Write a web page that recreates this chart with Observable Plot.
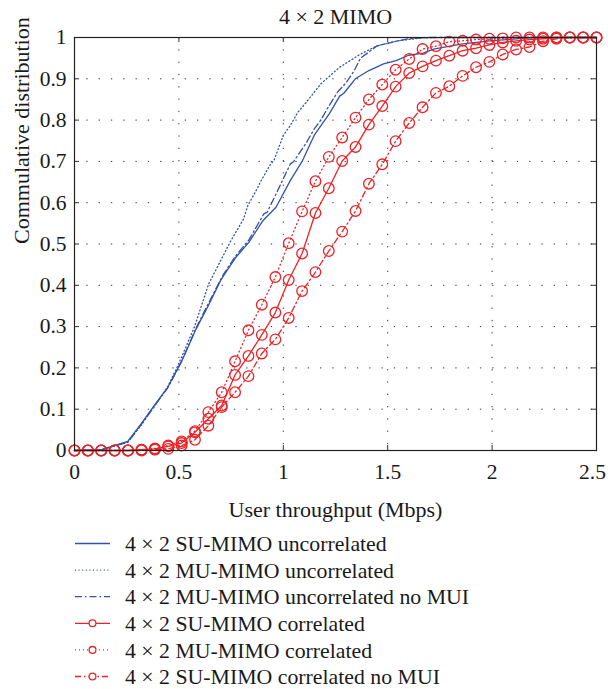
<!DOCTYPE html>
<html><head><meta charset="utf-8">
<script src="https://cdn.jsdelivr.net/npm/d3@7"></script>
<script src="https://cdn.jsdelivr.net/npm/@observablehq/plot@0.6"></script>
<style>body{margin:0;background:#fff;} svg{display:block;}</style>
</head><body><div id="chart"></div><div id="legend"></div>
<script>
const titleText = "4 × 2 MIMO";
const xLabel = "User throughput (Mbps)";
const yLabel = "Commulative distribution";
const xTicks = [0, 0.5, 1, 1.5, 2, 2.5];
const yTicks = [0, 0.1, 0.2, 0.3, 0.4, 0.5, 0.6, 0.7, 0.8, 0.9, 1];
const seriesNames = [
  "4 × 2 SU-MIMO uncorrelated",
  "4 × 2 MU-MIMO uncorrelated",
  "4 × 2 MU-MIMO uncorrelated no MUI",
  "4 × 2 SU-MIMO correlated",
  "4 × 2 MU-MIMO correlated",
  "4 × 2 SU-MIMO correlated no MUI"
];

// blue curves (no markers)
const suUncX = [0,0.13,0.255,0.32,0.383,0.447,0.511,0.53,0.58,0.64,0.70,0.715,0.77,0.835,0.90,0.965,1.034,1.09,1.15,1.22,1.27,1.29,1.345,1.41,1.48,1.54,1.60,1.67,1.72,1.85,1.99,2.1,2.2,2.5];
const suUncY = [0,0.002,0.022,0.065,0.11,0.153,0.214,0.235,0.292,0.35,0.412,0.424,0.466,0.504,0.555,0.589,0.654,0.70,0.765,0.815,0.858,0.865,0.90,0.92,0.936,0.944,0.957,0.962,0.972,0.984,0.992,0.996,1,1];
const muUncX = [0,0.13,0.255,0.32,0.383,0.447,0.49,0.511,0.575,0.643,0.69,0.747,0.81,0.83,0.875,0.89,0.94,0.955,1.0,1.034,1.07,1.11,1.18,1.27,1.37,1.45,1.55,1.66,1.75,2.5];
const muUncY = [0,0.002,0.02,0.062,0.107,0.155,0.20,0.224,0.30,0.404,0.45,0.506,0.561,0.593,0.634,0.65,0.694,0.702,0.763,0.787,0.819,0.843,0.888,0.928,0.96,0.98,0.992,0.999,1,1];
const muUncNoMuiX = [0,0.13,0.255,0.32,0.383,0.447,0.511,0.53,0.58,0.64,0.70,0.715,0.77,0.835,0.907,0.923,0.987,1.034,1.05,1.11,1.15,1.18,1.21,1.26,1.30,1.34,1.37,1.45,1.55,1.6,1.7,2.5];
const muUncNoMuiY = [0,0.002,0.02,0.063,0.108,0.152,0.214,0.236,0.294,0.355,0.414,0.428,0.47,0.51,0.573,0.577,0.644,0.694,0.70,0.745,0.78,0.80,0.827,0.868,0.89,0.92,0.95,0.98,0.992,0.997,1,1];

// red curves (circle markers, shared x samples)
const markerX = [0,0.064,0.128,0.192,0.256,0.321,0.385,0.449,0.513,0.577,0.641,0.705,0.769,0.833,0.897,0.962,1.026,1.090,1.154,1.218,1.282,1.346,1.410,1.474,1.538,1.603,1.667,1.731,1.795,1.859,1.923,1.987,2.051,2.115,2.179,2.244,2.308,2.372,2.436,2.5];
const suCorr = [0,0,0,0,0,0.002,0.004,0.01,0.018,0.044,0.077,0.109,0.183,0.229,0.280,0.334,0.413,0.477,0.575,0.635,0.701,0.735,0.789,0.834,0.881,0.914,0.930,0.944,0.956,0.968,0.974,0.982,0.988,0.992,0.995,0.997,1,1,1,1];
const muCorr = [0,0,0,0,0,0.002,0.005,0.012,0.022,0.047,0.093,0.141,0.216,0.291,0.353,0.420,0.502,0.579,0.652,0.711,0.758,0.806,0.850,0.886,0.922,0.948,0.972,0.979,0.990,0.992,0.995,0.997,0.998,1,1,1,1,1,1,1];
const suCorrNoMui = [0,0,0,0,0,0,0.002,0.004,0.012,0.026,0.060,0.105,0.141,0.180,0.235,0.269,0.321,0.386,0.432,0.483,0.530,0.580,0.646,0.693,0.749,0.793,0.831,0.866,0.882,0.907,0.928,0.941,0.959,0.971,0.977,0.991,0.997,1,1,1];

const BLUE = "#3452a6", RED = "#ec2227";
const FONT = "Liberation Serif";
const styles = [
  {color: BLUE, dash: null, marker: false},
  {color: BLUE, dash: "1,2.6", marker: false},
  {color: BLUE, dash: "7,3,1.5,3", marker: false},
  {color: RED, dash: null, marker: true},
  {color: RED, dash: "1,3", marker: true},
  {color: RED, dash: "6,3,1.5,3", marker: true}
];

const zipXY = (xs, ys) => xs.map((x, i) => ({x, y: ys[i]}));
const curves = [
  zipXY(suUncX, suUncY),
  zipXY(muUncX, muUncY),
  zipXY(muUncNoMuiX, muUncNoMuiY),
  zipXY(markerX, suCorr),
  zipXY(markerX, muCorr),
  zipXY(markerX, suCorrNoMui)
];

const fmt = d => String(+(+d).toFixed(1));
const gridStyle = {stroke: "#333", strokeOpacity: 1, strokeWidth: 1, strokeDasharray: "1.3,11"};
const lastX = xTicks[xTicks.length - 1];

const marks = [
  Plot.gridX(xTicks, gridStyle),
  Plot.gridY(yTicks, gridStyle),
  Plot.tickX(xTicks, {x: d => d, stroke: "#333", insetTop: 408}),
  Plot.tickX(xTicks, {x: d => d, stroke: "#333", insetBottom: 408}),
  Plot.tickY(yTicks, {y: d => d, stroke: "#333", insetRight: 517}),
  Plot.tickY(yTicks, {y: d => d, stroke: "#333", insetLeft: 517}),
  Plot.axisX(xTicks.slice(0, -1), {tickSize: 0, tickPadding: 13, tickFormat: fmt, label: null}),
  Plot.axisX([lastX], {tickSize: 0, tickPadding: 13, tickFormat: fmt, label: null, dx: -4}),
  Plot.axisY(yTicks, {tickSize: 0, tickPadding: 8, tickFormat: fmt, label: null})
];
curves.forEach((c, i) => {
  const s = styles[i];
  marks.push(Plot.line(c, {x: "x", y: "y", stroke: s.color, strokeWidth: 1.3, strokeDasharray: s.dash}));
});
curves.forEach((c, i) => {
  const s = styles[i];
  if (s.marker) marks.push(Plot.dot(c, {x: "x", y: "y", r: 5.3, stroke: s.color, fill: "none", strokeWidth: 1.3}));
});
marks.push(
  Plot.frame({stroke: "#222", strokeWidth: 1.2}),
  Plot.text([titleText], {frameAnchor: "top", dy: -21, lineAnchor: "middle", fontSize: 22}),
  Plot.text([xLabel], {frameAnchor: "bottom", dy: 59, lineAnchor: "middle", fontSize: 22}),
  Plot.text([yLabel], {frameAnchor: "left", dx: -53, rotate: -90, lineAnchor: "middle", fontSize: 22})
);

const chart = Plot.plot({
  width: 608, height: 530,
  marginTop: 37, marginBottom: 80, marginLeft: 74, marginRight: 12,
  style: {fontFamily: FONT, fontSize: "21.5px", background: "white", color: "#1a1a1a"},
  x: {domain: [0, 2.5]},
  y: {domain: [0, 1]},
  marks
});
document.getElementById("chart").appendChild(chart);

// legend below the chart
const leg = d3.select("#legend").append("svg").attr("width", 608).attr("height", 159)
  .style("font-family", FONT).style("font-size", "21.8px");
seriesNames.forEach((name, i) => {
  const s = styles[i];
  const y = 13.5 + i * 26.6;
  leg.append("line").attr("x1", 75).attr("x2", 110).attr("y1", y).attr("y2", y)
    .attr("stroke", s.color).attr("stroke-width", 1.3).attr("stroke-dasharray", s.dash);
  if (s.marker) leg.append("circle").attr("cx", 92.5).attr("cy", y).attr("r", 3.4)
    .attr("fill", "white").attr("stroke", s.color).attr("stroke-width", 1.3);
  leg.append("text").attr("x", 125).attr("y", y).attr("dy", "0.35em").attr("fill", "#1a1a1a").text(name);
});
</script></body></html>
